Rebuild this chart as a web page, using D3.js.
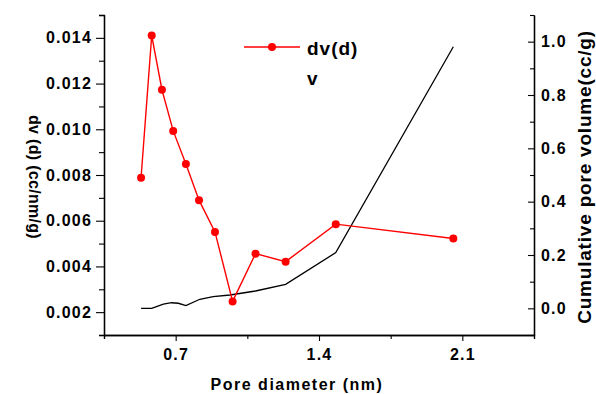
<!DOCTYPE html>
<html>
<head>
<meta charset="utf-8">
<script src="https://cdn.jsdelivr.net/npm/d3@7"></script>
<style>
  body { margin: 0; background: #fff; }
  svg text { font-family: "Liberation Sans", Arial, sans-serif; }
</style>
</head>
<body>
<svg class="chart"></svg>
<script>
// pore size distribution (red) and cumulative pore volume (black)
var diameter = [0.531, 0.583, 0.633, 0.688, 0.750, 0.814, 0.892, 0.978, 1.090, 1.237, 1.482, 2.056];
var dvd = [0.00788, 0.0141, 0.01173, 0.00993, 0.00848, 0.0069, 0.00551, 0.00247, 0.00456, 0.00421, 0.00585, 0.00522];

var volDiameter = [0.531, 0.583, 0.640, 0.680, 0.713, 0.750, 0.818, 0.883, 0.965, 1.090, 1.237, 1.482, 2.056];
var volume = [0.0, 0.0, 0.016, 0.021, 0.019, 0.010, 0.034, 0.044, 0.050, 0.065, 0.090, 0.209, 0.981];

var xTicks = [0.7, 1.4, 2.1];
var xMinor = [0.35, 1.05, 1.75, 2.45];
var leftTicks = [0.002, 0.004, 0.006, 0.008, 0.010, 0.012, 0.014];
var leftMinor = [0.001, 0.003, 0.005, 0.007, 0.009, 0.011, 0.013, 0.015];
var rightTicks = [0.0, 0.2, 0.4, 0.6, 0.8, 1.0];
var rightMinor = [-0.1, 0.1, 0.3, 0.5, 0.7, 0.9, 1.1];

var margin = {top: 15, right: 62, bottom: 59, left: 104},
	W = 596, H = 394,
	width = W - margin.left - margin.right,
	height = H - margin.top - margin.bottom;

var x = d3.scaleLinear().domain([0.35, 2.45]).range([0, width]),
	yL = d3.scaleLinear().domain([0.001, 0.015]).range([height, 0]),
	yR = d3.scaleLinear().domain([-0.1, 1.1]).range([height, 0]);

var svg = d3.select(".chart")
	.attr("width", W)
	.attr("height", H)
  .append("g")
	.attr("transform", "translate(" + margin.left + "," + margin.top + ")");

function styleAxis(g) {
	g.select(".domain").attr("stroke", "#000").attr("stroke-width", 1.3);
	g.selectAll(".tick line").attr("stroke", "#000").attr("stroke-width", 1.1);
	g.selectAll("text")
		.attr("fill", "#000")
		.style("font-size", "16px")
		.style("font-weight", "bold")
		.style("letter-spacing", "1.2px");
}

// bottom axis
svg.append("g")
	.attr("transform", "translate(0," + height + ")")
	.call(d3.axisBottom(x).tickValues(xMinor).tickSize(4).tickFormat(""))
	.call(styleAxis);
svg.append("g")
	.attr("transform", "translate(0," + height + ")")
	.call(d3.axisBottom(x).tickValues(xTicks).tickSize(6).tickSizeOuter(0).tickPadding(8).tickFormat(d3.format(".1f")))
	.call(styleAxis);

// left axis
svg.append("g")
	.call(d3.axisLeft(yL).tickValues(leftMinor).tickSize(5).tickFormat(""))
	.call(styleAxis);
svg.append("g")
	.call(d3.axisLeft(yL).tickValues(leftTicks).tickSize(8).tickSizeOuter(0).tickPadding(4).tickFormat(d3.format(".3f")))
	.call(styleAxis);

// right axis, ticks pointing inward
svg.append("g")
	.attr("transform", "translate(" + width + ",0)")
	.call(d3.axisRight(yR).tickValues(rightMinor).tickSizeInner(-4).tickSizeOuter(0).tickFormat(""))
	.call(styleAxis);
svg.append("g")
	.attr("transform", "translate(" + width + ",0)")
	.call(d3.axisRight(yR).tickValues(rightTicks).tickSizeInner(-6).tickSizeOuter(0).tickPadding(7).tickFormat(d3.format(".1f")))
	.call(styleAxis);

// axis titles
svg.append("text")
	.attr("x", width / 2 - 22)
	.attr("y", height + 55)
	.attr("text-anchor", "middle")
	.style("font-size", "16px")
	.style("font-weight", "bold")
	.style("letter-spacing", "1.5px")
	.text("Pore diameter (nm)");

svg.append("text")
	.attr("transform", "translate(" + (-margin.left + 29) + "," + (height / 2 + 2) + ") rotate(90)")
	.attr("text-anchor", "middle")
	.style("font-size", "16px")
	.style("font-weight", "bold")
	.style("letter-spacing", "0.3px")
	.text("dv (d) (cc/nm/g)");

svg.append("text")
	.attr("transform", "translate(" + (width + 57) + "," + (height / 2 + 2) + ") rotate(-90)")
	.attr("text-anchor", "middle")
	.style("font-size", "19px")
	.style("font-weight", "bold")
	.style("letter-spacing", "0.8px")
	.text("Cumulative pore volume(cc/g)");

// cumulative volume line
var volLine = d3.line()
	.x(function(d, i) { return x(volDiameter[i]); })
	.y(function(d) { return yR(d); });
svg.append("path")
	.attr("d", volLine(volume))
	.attr("fill", "none")
	.attr("stroke", "#000")
	.attr("stroke-width", 1.3);

// dv(d) line with markers
var dvLine = d3.line()
	.x(function(d, i) { return x(diameter[i]); })
	.y(function(d) { return yL(d); });
svg.append("path")
	.attr("d", dvLine(dvd))
	.attr("fill", "none")
	.attr("stroke", "#f00")
	.attr("stroke-width", 1.4);
svg.selectAll(".dot")
	.data(dvd)
  .enter().append("circle")
	.attr("class", "dot")
	.attr("cx", function(d, i) { return x(diameter[i]); })
	.attr("cy", function(d) { return yL(d); })
	.attr("r", 4)
	.attr("fill", "#f00");

// legend
var legend = svg.append("g").attr("transform", "translate(140,32)");
legend.append("line")
	.attr("x1", 0).attr("x2", 56)
	.attr("stroke", "#f00").attr("stroke-width", 1.4);
legend.append("circle").attr("cx", 28).attr("r", 4).attr("fill", "#f00");
legend.append("text")
	.attr("x", 63).attr("y", 8)
	.style("font-size", "19px").style("font-weight", "bold").style("letter-spacing", "1px")
	.text("dv(d)");
legend.append("text")
	.attr("x", 63).attr("y", 38)
	.style("font-size", "19px").style("font-weight", "bold")
	.text("v");
</script>
</body>
</html>
